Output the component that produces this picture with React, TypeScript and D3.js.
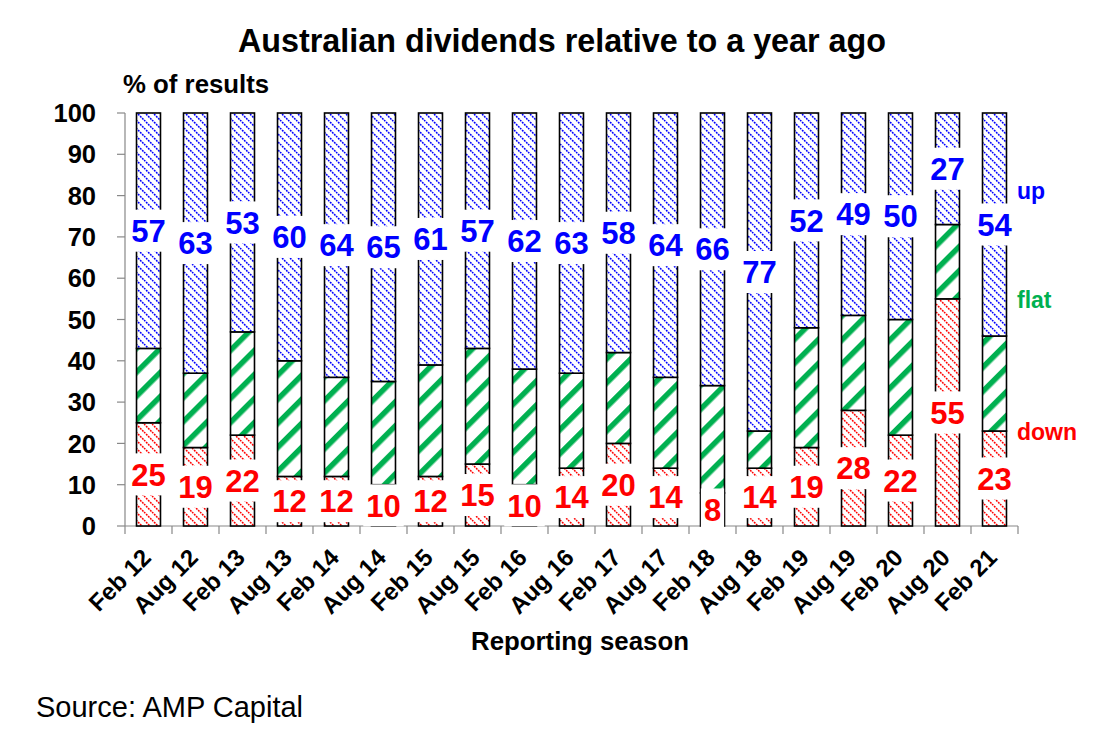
import React from "react";
import * as d3 from "d3";

const categories = ["Feb 12","Aug 12","Feb 13","Aug 13","Feb 14","Aug 14","Feb 15","Aug 15","Feb 16","Aug 16","Feb 17","Aug 17","Feb 18","Aug 18","Feb 19","Aug 19","Feb 20","Aug 20","Feb 21"];
const down = [25,19,22,12,12,10,12,15,10,14,20,14,8,14,19,28,22,55,23];
const up = [57,63,53,60,64,65,61,57,62,63,58,64,66,77,52,49,50,27,54];
const flat = categories.map((_, i) => 100 - up[i] - down[i]);
const yTicks = [0,10,20,30,40,50,60,70,80,90,100];

const W = 1111, H = 738;
const FONT = "'Liberation Sans', Arial, Helvetica, sans-serif";
const BLUE = "#0000ff", GREEN = "#00b050", RED = "#ff0000";

export default function App() {
  const x = d3.scaleBand<string>().domain(categories).range([125, 1018]).paddingInner(0.49).paddingOuter(0.245);
  const y = d3.scaleLinear().domain([0, 100]).range([526, 113]);
  const bw = x.bandwidth();
  const step = x.step();

  const series = [
    { key: "down", vals: down, base: (i: number) => 0, fill: "url(#pRed)", color: RED },
    { key: "flat", vals: flat, base: (i: number) => down[i], fill: "url(#pGreen)", color: GREEN },
    { key: "up", vals: up, base: (i: number) => down[i] + flat[i], fill: "url(#pBlue)", color: BLUE },
  ];

  const labelFont = 31;
  const digitW = labelFont * 0.556;
  const T = 8;
  const diag = `M0,0 L${T},${T} M${-T / 2},${T / 2} L${T / 2},${T * 1.5} M${T / 2},${-T / 2} L${T * 1.5},${T / 2}`;

  return (
    <svg width={W} height={H} style={{ position: "absolute", left: 0, top: 0, background: "#fff" }} fontFamily={FONT}>
      <defs>
        <pattern id="pBlue" patternUnits="userSpaceOnUse" width={T} height={T}>
          <rect width={T} height={T} fill="#fff" />
          <path d={diag} stroke={BLUE} strokeWidth={1.5} strokeDasharray="1.9 1" />
        </pattern>
        <pattern id="pRed" patternUnits="userSpaceOnUse" width={T} height={T}>
          <rect width={T} height={T} fill="#fff" />
          <path d={diag} stroke={RED} strokeWidth={1.5} strokeDasharray="1.9 1" />
        </pattern>
        <pattern id="pGreen" patternUnits="userSpaceOnUse" width={17} height={17} patternTransform="rotate(45)">
          <rect width={17} height={17} fill="#fff" />
          <rect x={0} y={0} width={5.5} height={17} fill={GREEN} />
        </pattern>
      </defs>

      {/* Title */}
      <text x={562} y={52} textAnchor="middle" fontSize={32.3} fontWeight="bold" fill="#000">
        Australian dividends relative to a year ago
      </text>
      <text x={123} y={93} fontSize={25.8} fontWeight="bold" fill="#000">% of results</text>

      {/* Y axis */}
      <line x1={125} x2={125} y1={y(100)} y2={y(0)} stroke="#888" strokeWidth={1.2} />
      {yTicks.map(t => (
        <g key={t}>
          <line x1={117} x2={125} y1={y(t)} y2={y(t)} stroke="#888" strokeWidth={1.2} />
          <text x={96} y={y(t)} dy="0.36em" textAnchor="end" fontSize={25.5} fontWeight="bold" fill="#000">{t}</text>
        </g>
      ))}

      {/* X axis */}
      <line x1={125} x2={125 + step * categories.length} y1={y(0)} y2={y(0)} stroke="#888" strokeWidth={1.2} />
      {d3.range(categories.length + 1).map(i => (
        <line key={i} x1={125 + i * step} x2={125 + i * step} y1={y(0)} y2={y(0) + 8} stroke="#888" strokeWidth={1.2} />
      ))}
      {categories.map(c => {
        const cx = (x(c) as number) + bw / 2 + 4;
        return (
          <text key={c} x={cx} y={559} transform={`rotate(-45 ${cx} 559)`} textAnchor="end" fontSize={24} fontWeight="bold" fill="#000">{c}</text>
        );
      })}

      {/* Bars */}
      {series.map(s => (
        <g key={s.key}>
          {categories.map((c, i) => {
            const b = s.base(i);
            const v = s.vals[i];
            return (
              <rect key={c} x={x(c)} y={y(b + v)} width={bw} height={y(b) - y(b + v)} fill={s.fill} stroke="#000" strokeWidth={1.6} />
            );
          })}
        </g>
      ))}

      {/* Data labels: down and up */}
      {[series[0], series[2]].map(s => (
        <g key={s.key + "lab"}>
          {categories.map((c, i) => {
            const b = s.base(i);
            const v = s.vals[i];
            const cx = (x(c) as number) + bw / 2;
            const cy = y(b + v / 2);
            const tw = String(v).length * digitW;
            return (
              <g key={c}>
                <rect x={cx - tw / 2 - 3} y={cy - 21} width={tw + 6} height={42} fill="#fff" />
                <text x={cx} y={cy} dy="0.36em" textAnchor="middle" fontSize={labelFont} fontWeight="bold" fill={s.color}>{v}</text>
              </g>
            );
          })}
        </g>
      ))}

      {/* Series names */}
      <text x={1017} y={199} fontSize={23} fontWeight="bold" fill={BLUE}>up</text>
      <text x={1017} y={308} fontSize={23} fontWeight="bold" fill={GREEN}>flat</text>
      <text x={1017} y={440} fontSize={23} fontWeight="bold" fill={RED}>down</text>

      {/* Axis title */}
      <text x={580} y={650} textAnchor="middle" fontSize={25.8} fontWeight="bold" fill="#000">Reporting season</text>

      {/* Source */}
      <text x={36} y={717} fontSize={29} fill="#000">Source: AMP Capital</text>
    </svg>
  );
}
